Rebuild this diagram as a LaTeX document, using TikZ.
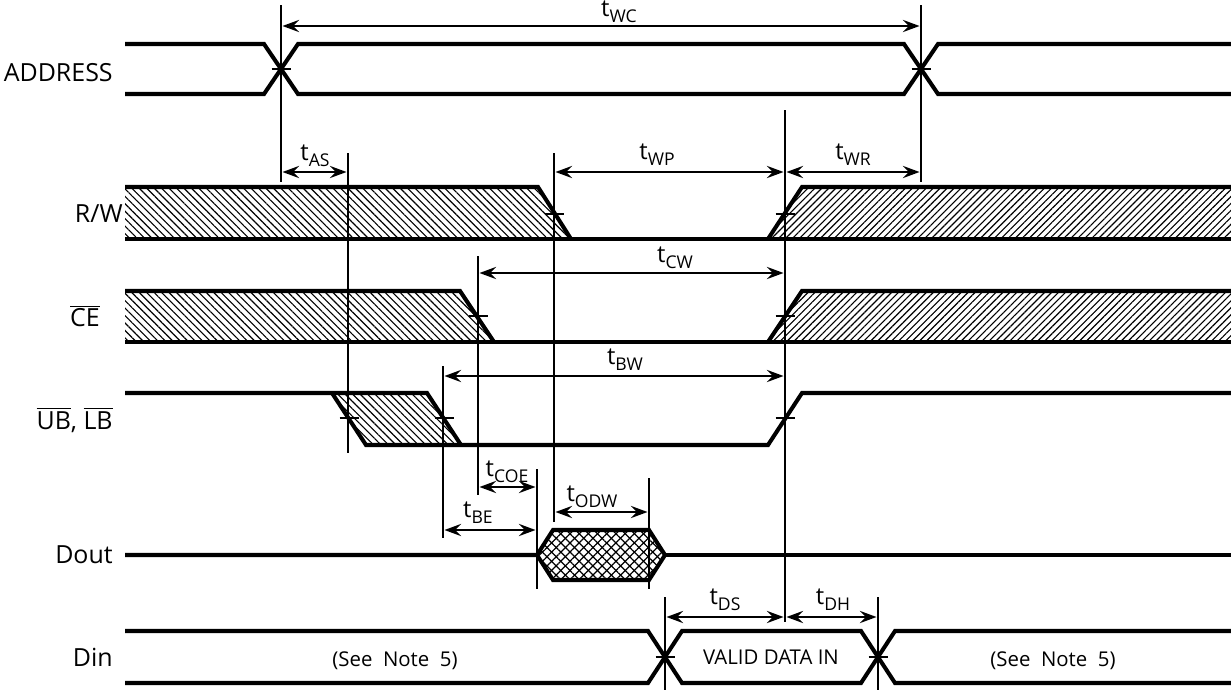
\documentclass[tikz,border=0pt]{standalone}
\usepackage{fontspec}
\setmainfont{Open Sans}
\usetikzlibrary{arrows.meta,patterns.meta}
\tikzset{
	sigline/.style={line width=2.3pt,line join=miter},
	refline/.style={line width=0.85pt},
	timearrow/.style={line width=0.85pt,{Stealth[length=9.5pt,width=7pt,inset=3.5pt]}-{Stealth[length=9.5pt,width=7pt,inset=3.5pt]}},
	siglabel/.style={font=\fontsize{14.2}{16}\selectfont,inner sep=0pt,anchor=east},
	timelabel/.style={font=\fontsize{13.5}{15}\selectfont,inner sep=0pt},
	notelabel/.style={font=\fontsize{11.6}{13}\selectfont,inner sep=0pt},
	hatchdown/.style={pattern={Lines[angle=-45,distance=3pt,line width=0.65pt]}},
	hatchup/.style={pattern={Lines[angle=45,distance=2.8pt,line width=0.65pt]}},
	crossdown/.style={pattern={Lines[angle=-45,distance=3.7pt,line width=0.7pt]}},
	crossup/.style={pattern={Lines[angle=45,distance=3.7pt,line width=0.7pt]}},
}
\newcommand{\tsub}[1]{t\raisebox{-0.45ex}{\fontsize{10}{12}\selectfont #1}}
\begin{document}
\begin{tikzpicture}[x=0.02cm,y=-0.02cm]
		\useasboundingbox (0,0) rectangle (1231,690);
		% hatching
		\fill[hatchdown] (125,187)--(538,187)--(571,239)--(125,239)--cycle;
		\fill[hatchup] (768,239)--(802,187)--(1231,187)--(1231,239)--cycle;
		\fill[hatchdown] (125,291)--(460,291)--(494,342)--(125,342)--cycle;
		\fill[hatchup] (768,342)--(802,291)--(1231,291)--(1231,342)--cycle;
		\fill[hatchdown] (332,393)--(427,393)--(461,445)--(366,445)--cycle;
		\fill[crossdown] (537,555)--(553,530)--(649,530)--(665,555)--(649,580)--(553,580)--cycle;
		\fill[crossup] (537,555)--(553,530)--(649,530)--(665,555)--(649,580)--(553,580)--cycle;
		% ADDRESS
		\draw[sigline] (125,44)--(264,44)--(298,94)--(904,94)--(938,44)--(1231,44);
		\draw[sigline] (125,94)--(264,94)--(298,44)--(904,44)--(938,94)--(1231,94);
		% R/W
		\draw[sigline] (125,187)--(538,187)--(571,239);
		\draw[sigline] (125,239)--(1231,239);
		\draw[sigline] (768,239)--(802,187)--(1231,187);
		% CE
		\draw[sigline] (125,291)--(460,291)--(494,342);
		\draw[sigline] (125,342)--(1231,342);
		\draw[sigline] (768,342)--(802,291)--(1231,291);
		% UB, LB
		\draw[sigline] (125,393)--(427,393)--(461,445);
		\draw[sigline] (332,393)--(366,445)--(768,445)--(802,393)--(1231,393);
		% Dout
		\draw[sigline] (125,555)--(537,555)--(553,530)--(649,530)--(665,555)--(649,580)--(553,580)--(537,555);
		\draw[sigline] (665,555)--(1231,555);
		% Din
		\draw[sigline] (125,631)--(648,631)--(682,683)--(861,683)--(895,631)--(1231,631);
		\draw[sigline] (125,683)--(648,683)--(682,631)--(861,631)--(895,683)--(1231,683);
		% reference lines
		\foreach \xx/\ya/\yb in {281/5/182,921/5/182,348/153/453,554/153/522,785/110/622,478/256/495,443/366/538,537/469/589,649/478/589,665/597/690,878/597/690}
			\draw[refline] (\xx,\ya)--(\xx,\yb);
		% crossing marks
		\foreach \xx/\yy in {281/69,921/69,554/214,785/214,478/316,785/316,349/418,444/418,785/418,665/657,878/657}
			\draw[refline] (\xx-9.5,\yy)--(\xx+9.5,\yy);
		% timing arrows
		\foreach \nm/\xa/\xb/\yy in {wc/281/921/26,as/281/348/172,wp/554/785/172,wr/785/921/172,cw/478/785/273,bw/443/785/376,coe/478/537/487,be/443/537/530,odw/554/649/512,ds/665/785/617,dh/785/878/617}{
			\coordinate (\nm L) at (\xa+1.5,\yy);
			\coordinate (\nm R) at (\xb-1.5,\yy);
			\draw[timearrow] (\nm L)--(\nm R);
		}
		% timing labels
		\node[timelabel] (tWC) at (619,12) {\tsub{WC}};
		\node[timelabel] (tAS) at (315,156) {\tsub{AS}};
		\node[timelabel] (tWP) at (657,155) {\tsub{WP}};
		\node[timelabel] (tWR) at (853,155) {\tsub{WR}};
		\node[timelabel] (tCW) at (675,258) {\tsub{CW}};
		\node[timelabel] (tBW) at (625,360) {\tsub{BW}};
		\node[timelabel] (tCOE) at (507,472) {\tsub{COE}};
		\node[timelabel] (tBE) at (478,513) {\tsub{BE}};
		\node[timelabel] (tODW) at (592,497) {\tsub{ODW}};
		\node[timelabel] (tDS) at (725,600) {\tsub{DS}};
		\node[timelabel] (tDH) at (833,600) {\tsub{DH}};
		% signal names
		\node[siglabel] (address) at (113,73) {ADDRESS};
		\node[siglabel] (rw) at (123,214) {R/W};
		\node[siglabel] (ce) at (100,316) {$\overline{\mbox{CE}}$};
		\node[siglabel] (ublb) at (113,420) {$\overline{\mbox{UB}}$, $\overline{\mbox{LB}}$};
		\node[siglabel] (dout) at (113,555) {Dout};
		\node[siglabel] (din) at (113,657) {Din};
		% notes
		\node[notelabel] (noteA) at (395,661) {(See\ \ Note\ \ 5)};
		\node[notelabel] (noteB) at (1053,661) {(See\ \ Note\ \ 5)};
		\node[notelabel] (valid) at (771,657) {VALID\ DATA\ IN};
		\end{tikzpicture}
\end{document}
